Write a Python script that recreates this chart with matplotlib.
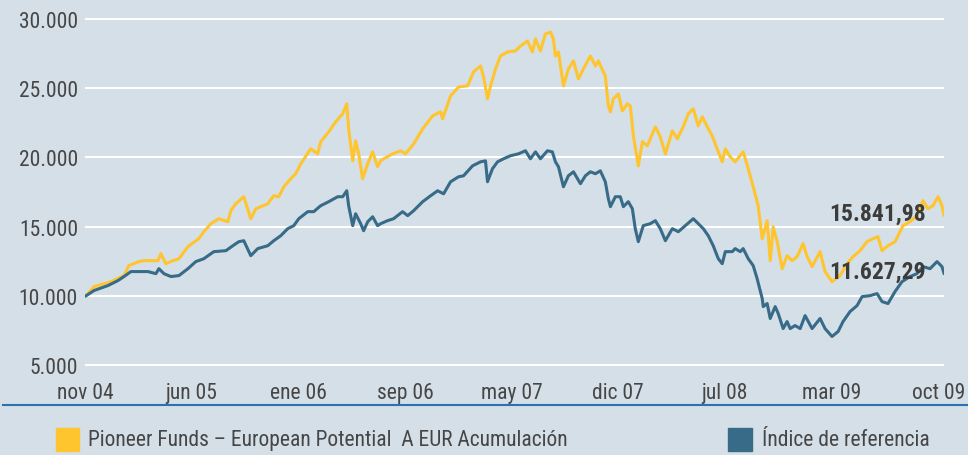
import numpy as np
import matplotlib.pyplot as plt
from matplotlib.patches import Rectangle
from matplotlib.lines import Line2D
from matplotlib.ticker import FuncFormatter

# Meses desde nov 04 y valor (base 10.000) - Pioneer Funds
fondo_mes = [0.00, 0.55, 1.72, 2.61, 2.95, 3.64, 3.98, 4.95, 5.15, 5.49, 5.98, 6.39,
             7.01, 7.76, 8.10, 8.59, 9.13, 9.75, 9.96, 10.30, 10.85, 11.33, 11.68, 12.50,
             12.91, 13.26, 13.60, 14.08, 14.42, 14.77, 15.45, 15.93, 16.14, 16.69, 17.17, 17.65,
             17.93, 18.06, 18.34, 18.54, 18.75, 19.02, 19.37, 19.71, 20.05, 20.26, 20.47, 21.09,
             21.63, 21.98, 22.53, 23.15, 23.83, 24.38, 24.52, 25.07, 25.62, 26.24, 26.65, 27.13,
             27.34, 27.61, 27.82, 28.16, 28.50, 28.98, 29.53, 29.88, 30.36, 30.70, 30.91, 31.25,
             31.59, 31.94, 32.14, 32.28, 32.49, 32.83, 33.17, 33.52, 33.86, 34.20, 34.68, 35.03,
             35.23, 35.71, 35.92, 36.06, 36.26, 36.61, 36.88, 37.23, 37.43, 37.64, 37.98, 38.26,
             38.60, 39.15, 39.49, 39.84, 40.32, 40.66, 41.07, 41.41, 41.76, 42.10, 42.38, 42.72,
             43.06, 43.48, 43.75, 43.96, 44.30, 44.64, 45.19, 45.54, 45.88, 46.22, 46.50, 46.84,
             47.05, 47.25, 47.53, 47.87, 48.21, 48.56, 48.90, 49.31, 49.59, 49.93, 50.48, 50.82,
             51.30, 51.85, 52.34, 52.75, 53.23, 53.71, 54.12, 54.46, 54.74, 55.15, 55.63, 55.84,
             56.18, 56.66, 57.14, 57.55, 57.90, 58.24, 58.59, 58.86, 59.00]
fondo_val = [10000, 10660, 11020, 11460, 12180, 12470, 12540, 12540, 13050, 12320, 12540, 12680,
             13550, 14130, 14630, 15210, 15570, 15350, 16150, 16650, 17160, 15570, 16290, 16650,
             17230, 17160, 17880, 18460, 18820, 19540, 20620, 20260, 21130, 21850, 22570, 23150,
             23870, 22060, 19750, 21200, 20260, 18460, 19540, 20400, 19320, 19750, 19900, 20260,
             20480, 20260, 20980, 22060, 23000, 23290, 22790, 24440, 25090, 25170, 26180, 26610,
             25820, 24230, 25170, 26390, 27330, 27620, 27690, 28050, 28410, 27620, 28560, 27690,
             28920, 29060, 28560, 27330, 27620, 25170, 26390, 26970, 25670, 26390, 27330, 26610,
             26970, 25890, 23720, 23290, 24230, 24590, 23360, 23870, 23720, 21560, 19390, 21130,
             20840, 22210, 21490, 20260, 21920, 21340, 22210, 23150, 23510, 22280, 22930, 22210,
             21560, 20400, 19680, 20620, 20040, 19680, 20400, 19180, 17880, 16510, 14130, 15430,
             12540, 14990, 13910, 11960, 12900, 12540, 12830, 13770, 12830, 12110, 13190, 11750,
             11020, 11460, 12320, 12830, 13260, 13910, 14130, 14270, 13260, 13620, 13910, 14340,
             15070, 15350, 15790, 16870, 16290, 16510, 17160, 16510, 15841.98]

# Índice de referencia
indice_mes = [0.00, 0.55, 1.51, 2.20, 2.61, 3.09, 3.78, 4.26, 4.81, 5.01, 5.36, 5.84,
              6.39, 7.01, 7.55, 8.10, 8.79, 9.62, 10.10, 10.51, 10.85, 11.33, 11.81, 12.50,
              12.91, 13.39, 13.87, 14.29, 14.63, 15.25, 15.66, 16.14, 16.69, 17.31, 17.65, 17.93,
              18.06, 18.34, 18.54, 18.89, 19.09, 19.37, 19.71, 20.05, 20.26, 20.74, 21.15, 21.77,
              22.12, 22.53, 23.15, 23.70, 24.18, 24.59, 25.07, 25.62, 25.96, 26.58, 27.13, 27.47,
              27.61, 27.95, 28.30, 28.71, 29.19, 29.74, 30.22, 30.56, 30.91, 31.25, 31.73, 32.07,
              32.28, 32.49, 32.83, 33.17, 33.52, 34.00, 34.34, 34.68, 35.03, 35.37, 35.71, 35.92,
              36.06, 36.40, 36.74, 36.95, 37.29, 37.57, 37.77, 37.98, 38.32, 38.80, 39.15, 39.49,
              39.84, 40.32, 40.73, 41.21, 41.76, 42.10, 42.45, 42.79, 43.13, 43.48, 43.75, 43.96,
              44.44, 44.64, 44.99, 45.19, 45.54, 45.88, 46.15, 46.50, 46.57, 46.84, 47.05, 47.39,
              47.60, 47.94, 48.21, 48.42, 48.76, 49.11, 49.45, 49.93, 50.48, 50.82, 51.30, 51.72,
              52.06, 52.54, 53.02, 53.37, 53.91, 54.40, 54.74, 55.15, 55.63, 56.11, 56.66, 57.14,
              57.55, 58.04, 58.52, 58.86, 59.00]
indice_val = [10000, 10380, 10740, 11100, 11390, 11750, 11750, 11750, 11600, 11960, 11600, 11390,
              11460, 11960, 12470, 12680, 13190, 13260, 13620, 13910, 13980, 12900, 13410, 13620,
              13980, 14340, 14850, 15070, 15570, 16080, 16080, 16510, 16800, 17160, 17160, 17590,
              16510, 15070, 15930, 15210, 14700, 15350, 15710, 15070, 15210, 15430, 15570, 16080,
              15790, 16150, 16800, 17230, 17590, 17370, 18240, 18600, 18670, 19390, 19680, 19750,
              18240, 19180, 19680, 19900, 20120, 20260, 20480, 19900, 20400, 19900, 20480, 20400,
              19680, 19320, 17880, 18670, 18960, 18100, 18670, 18960, 18820, 19030, 18240, 17010,
              16440, 17160, 17160, 16440, 16800, 16290, 14850, 13910, 15070, 15210, 15430, 14850,
              13980, 14850, 14630, 15070, 15570, 15210, 14850, 14340, 13620, 12680, 12320, 13190,
              13190, 13410, 13190, 13410, 12680, 12180, 11240, 9800, 9220, 9440, 8360, 9220,
              8720, 7630, 8140, 7630, 7850, 7630, 8570, 7630, 8360, 7630, 7060, 7420,
              8140, 8860, 9290, 9940, 10010, 10160, 9580, 9440, 10300, 11020, 11390, 11600,
              12110, 11960, 12470, 12110, 11627.29]

etiquetas_x = ["nov 04", "jun 05", "ene 06", "sep 06", "may 07", "dic 07", "jul 08", "mar 09", "oct 09"]
valores_y = [5000, 10000, 15000, 20000, 25000, 30000]

fondo_nombre = "Pioneer Funds \u2013 European Potential  A EUR Acumulación"
indice_nombre = "Índice de referencia"

# Colores
fondo_bg = "#d5dfe7"
amarillo = "#fec52e"
azul = "#376b88"
gris = "#464646"

plt.rcParams["font.family"] = ["Roboto Condensed", "Liberation Sans Narrow", "DejaVu Sans"]

fig = plt.figure(figsize=(9.68, 4.56), dpi=100, facecolor=fondo_bg)
ax = fig.add_axes([0.0878, 0.1822, 0.8874, 0.7891])
ax.set_facecolor(fondo_bg)

ax.plot(fondo_mes, fondo_val, color=amarillo, lw=2.2, zorder=3)
ax.plot(indice_mes, indice_val, color=azul, lw=2.2, zorder=4)

ax.set_xlim(0, 59)
ax.set_ylim(4500, 30500)

# Rejilla blanca
for v in valores_y:
    ax.axhline(v, color="white", lw=1.5, zorder=1)

ax.set_yticks(valores_y)
ax.yaxis.set_major_formatter(FuncFormatter(lambda v, p: f"{int(v):,}".replace(",", ".")))
ax.set_xticks(np.linspace(-0.07, 58.6, len(etiquetas_x)))
ax.set_xticklabels(etiquetas_x)
ax.tick_params(axis="both", length=0, labelsize=15.5, labelcolor=gris)
ax.tick_params(axis="y", pad=5)
ax.tick_params(axis="x", pad=7)
for s in ax.spines.values():
    s.set_visible(False)

# Valores finales
ax.text(57.76, 15930, "15.841,98", ha="right", va="center", fontsize=17,
        fontweight="bold", color="#3c3c3c", zorder=5)
ax.text(57.76, 11750, "11.627,29", ha="right", va="center", fontsize=17,
        fontweight="bold", color="#3c3c3c", zorder=5)

# Línea azul separadora
fig.add_artist(Line2D([0.003, 1.0], [0.1096, 0.1096], color="#2b72b3", lw=1.5))

# Leyenda
fig.add_artist(Rectangle((0.0579, 0.0088), 0.0238, 0.0504, color=amarillo, transform=fig.transFigure))
fig.text(0.0909, 0.033, fondo_nombre, va="center", ha="left", fontsize=15.5, color=gris)
fig.add_artist(Rectangle((0.752, 0.0088), 0.0248, 0.0504, color=azul, transform=fig.transFigure))
fig.text(0.787, 0.033, indice_nombre, va="center", ha="left", fontsize=15.5, color=gris)

plt.savefig("out.png", dpi=100, facecolor=fondo_bg)
